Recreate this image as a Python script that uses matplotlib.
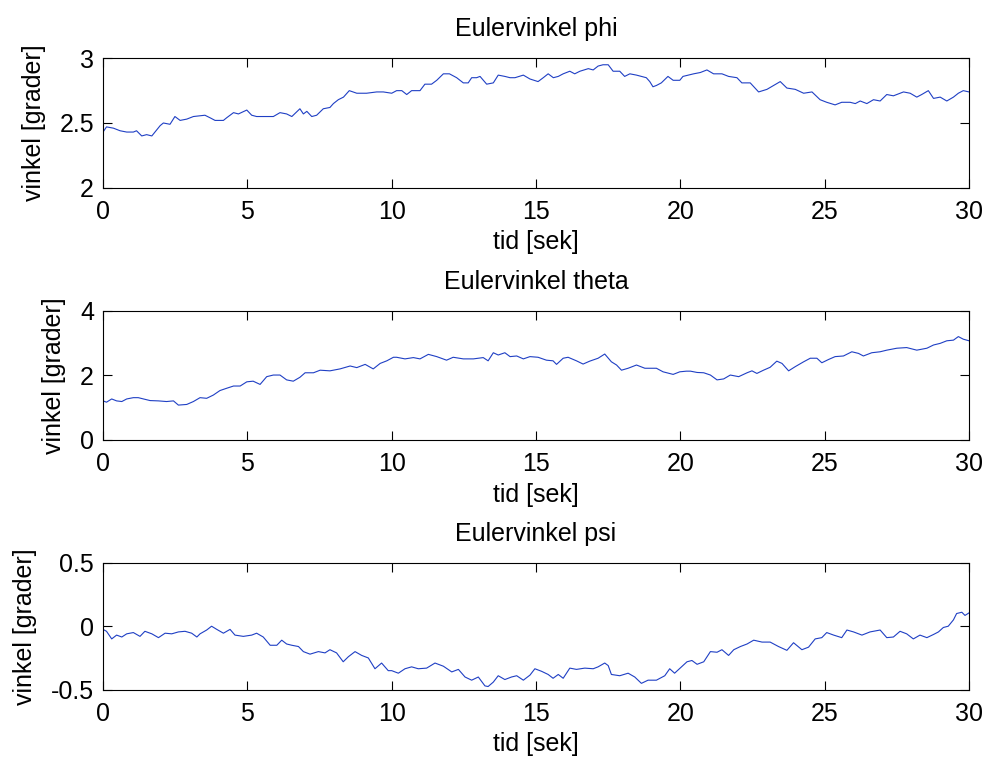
import matplotlib
matplotlib.use("Agg")
import matplotlib.pyplot as plt

plt.rcParams['font.family'] = ['Liberation Sans', 'DejaVu Sans']
plt.rcParams['axes.unicode_minus'] = False

# ---- data ----
t_phi = [0, 0.12, 0.36, 0.59, 0.82, 1.05, 1.16, 1.34, 1.51, 1.69, 1.8, 1.98, 2.09, 2.32, 2.49, 2.67, 2.9, 3.13,
         3.53, 3.71, 3.88, 4.17, 4.28, 4.52, 4.69, 4.98, 5.15, 5.32, 5.67, 5.9, 6.13, 6.36, 6.54, 6.82, 6.94,
         7.06, 7.23, 7.4, 7.63, 7.86, 7.98, 8.15, 8.33, 8.53, 8.79, 9.13, 9.48, 9.71, 10.0, 10.17, 10.35,
         10.52, 10.69, 10.98, 11.15, 11.38, 11.56, 11.79, 12.0, 12.25, 12.48, 12.65, 12.77, 12.94, 13.06,
         13.29, 13.52, 13.69, 13.92, 14.1, 14.27, 14.56, 14.79, 15.07, 15.25, 15.42, 15.6, 15.77, 15.94,
         16.17, 16.34, 16.52, 16.81, 16.98, 17.15, 17.32, 17.5, 17.67, 17.9, 18.07, 18.25, 18.48, 18.82,
         18.94, 19.05, 19.17, 19.34, 19.57, 19.75, 19.98, 20.09, 20.27, 20.46, 20.69, 20.92, 21.15, 21.44,
         21.67, 21.96, 22.13, 22.42, 22.71, 23.0, 23.23, 23.46, 23.69, 23.98, 24.27, 24.56, 24.84, 25.07,
         25.36, 25.59, 25.88, 26.06, 26.23, 26.46, 26.69, 26.92, 27.15, 27.38, 27.73, 27.96, 28.19, 28.36,
         28.59, 28.77, 29.0, 29.23, 29.46, 29.63, 29.8, 30.0]
phi = [2.43, 2.47, 2.46, 2.44, 2.43, 2.43, 2.44, 2.40, 2.41, 2.40, 2.43, 2.48, 2.50, 2.49, 2.55, 2.52, 2.53, 2.55,
       2.56, 2.54, 2.52, 2.52, 2.54, 2.58, 2.57, 2.60, 2.56, 2.55, 2.55, 2.55, 2.58, 2.57, 2.55, 2.61, 2.57,
       2.59, 2.55, 2.56, 2.61, 2.62, 2.65, 2.68, 2.70, 2.75, 2.73, 2.73, 2.74, 2.74, 2.73, 2.75, 2.75,
       2.72, 2.75, 2.75, 2.80, 2.80, 2.83, 2.88, 2.88, 2.85, 2.81, 2.81, 2.85, 2.85, 2.86,
       2.80, 2.81, 2.87, 2.86, 2.85, 2.85, 2.87, 2.84, 2.82, 2.85, 2.88, 2.85, 2.86, 2.88,
       2.90, 2.88, 2.90, 2.92, 2.91, 2.94, 2.95, 2.95, 2.90, 2.90, 2.86, 2.88, 2.87, 2.85,
       2.82, 2.78, 2.79, 2.81, 2.86, 2.83, 2.83, 2.86, 2.87, 2.88, 2.89, 2.91, 2.88, 2.88,
       2.86, 2.85, 2.81, 2.81, 2.74, 2.76, 2.79, 2.82, 2.77, 2.76, 2.73, 2.74, 2.68, 2.66,
       2.64, 2.66, 2.66, 2.65, 2.67, 2.65, 2.68, 2.67, 2.72, 2.71, 2.74, 2.73, 2.70, 2.72,
       2.75, 2.69, 2.70, 2.67, 2.70, 2.73, 2.75, 2.74]

t_theta = [0, 0.12, 0.3, 0.47, 0.65, 0.82, 1.05, 1.22, 1.4, 1.63, 1.92, 2.2, 2.44, 2.61, 2.9, 3.13, 3.36, 3.59,
           3.82, 4.05, 4.28, 4.52, 4.75, 4.98, 5.2, 5.44, 5.67, 5.9, 6.13, 6.36, 6.59, 6.82, 7.0, 7.29, 7.52,
           7.86, 8.21, 8.56, 8.79, 9.08, 9.36, 9.6, 9.83, 10.06, 10.17, 10.46, 10.75, 10.98, 11.27, 11.56,
           11.9, 12.13, 12.48, 12.83, 13.17, 13.34, 13.52, 13.69, 13.92, 14.1, 14.33, 14.56, 14.79, 15.07,
           15.36, 15.59, 15.71, 15.94, 16.11, 16.4, 16.63, 16.86, 17.15, 17.38, 17.61, 17.79, 17.96, 18.19,
           18.48, 18.77, 19.17, 19.4, 19.75, 19.98, 20.21, 20.35, 20.58, 20.81, 21.04, 21.27, 21.5, 21.73,
           22.02, 22.31, 22.48, 22.65, 22.88, 23.11, 23.34, 23.52, 23.75, 23.98, 24.27, 24.5, 24.73, 24.9,
           25.13, 25.36, 25.65, 25.94, 26.17, 26.34, 26.63, 26.92, 27.15, 27.5, 27.84, 28.19, 28.54, 28.77,
           29.0, 29.23, 29.46, 29.63, 29.8, 30.0]
theta = [1.21, 1.17, 1.27, 1.21, 1.19, 1.27, 1.31, 1.31, 1.27, 1.22, 1.21, 1.19, 1.21, 1.08, 1.10, 1.19, 1.31, 1.29,
         1.39, 1.53, 1.60, 1.67, 1.67, 1.80, 1.82, 1.72, 1.96, 2.01, 2.01, 1.86, 1.82, 1.94, 2.08, 2.08, 2.16,
         2.14, 2.20, 2.29, 2.24, 2.34, 2.20, 2.37, 2.45, 2.56, 2.56, 2.51, 2.55, 2.51, 2.65, 2.58,
         2.47, 2.56, 2.51, 2.51, 2.55, 2.45, 2.70, 2.63, 2.70, 2.58, 2.60, 2.51, 2.58, 2.56,
         2.47, 2.45, 2.34, 2.53, 2.56, 2.45, 2.35, 2.44, 2.53, 2.66, 2.42, 2.32, 2.16, 2.22,
         2.32, 2.22, 2.22, 2.11, 2.03, 2.11, 2.13, 2.13, 2.09, 2.08, 2.01, 1.86, 1.89, 2.01,
         1.96, 2.08, 2.14, 2.06, 2.16, 2.25, 2.44, 2.37, 2.14, 2.27, 2.42, 2.53, 2.53, 2.39,
         2.49, 2.58, 2.60, 2.73, 2.68, 2.60, 2.70, 2.73, 2.78, 2.84, 2.86, 2.78, 2.84, 2.94,
         2.99, 3.07, 3.09, 3.20, 3.12, 3.07]

t_psi = [0, 0.12, 0.3, 0.47, 0.65, 0.82, 1.05, 1.28, 1.45, 1.69, 1.92, 2.15, 2.38, 2.61, 2.84, 3.07, 3.25, 3.36,
         3.59, 3.76, 3.94, 4.17, 4.4, 4.57, 4.86, 5.15, 5.32, 5.55, 5.79, 6.02, 6.19, 6.36, 6.54, 6.77, 6.94,
         7.17, 7.46, 7.69, 7.86, 8.09, 8.32, 8.5, 8.73, 8.96, 9.19, 9.42, 9.65, 9.88, 10.0, 10.23, 10.46,
         10.69, 10.92, 11.21, 11.5, 11.79, 12.08, 12.31, 12.54, 12.77, 13.0, 13.23, 13.34, 13.52, 13.69,
         13.92, 14.15, 14.33, 14.56, 14.79, 14.96, 15.19, 15.42, 15.59, 15.77, 15.94, 16.17, 16.4, 16.69,
         16.98, 17.15, 17.38, 17.5, 17.61, 17.9, 18.19, 18.42, 18.65, 18.88, 19.17, 19.46, 19.63, 19.8,
         20.04, 20.23, 20.4, 20.58, 20.81, 21.04, 21.27, 21.44, 21.67, 21.85, 22.08, 22.31, 22.54, 22.83,
         23.11, 23.4, 23.69, 23.92, 24.21, 24.44, 24.67, 24.9, 25.07, 25.31, 25.59, 25.77, 26.0, 26.29,
         26.57, 26.92, 27.15, 27.38, 27.61, 27.84, 28.07, 28.3, 28.54, 28.77, 28.94, 29.11, 29.28, 29.46,
         29.57, 29.75, 29.86, 30.0]
psi = [-0.025, -0.04, -0.10, -0.07, -0.085, -0.06, -0.05, -0.08, -0.04, -0.06, -0.09, -0.055, -0.06, -0.045,
       -0.04, -0.055, -0.085, -0.06, -0.03, 0.0, -0.025, -0.055, -0.025, -0.07, -0.08, -0.07, -0.055, -0.085,
       -0.15, -0.15, -0.11, -0.14, -0.15, -0.16, -0.20, -0.22, -0.20, -0.21, -0.185, -0.21, -0.28, -0.24,
       -0.20, -0.23, -0.25, -0.335, -0.29, -0.35, -0.35, -0.37, -0.335, -0.32, -0.335, -0.33, -0.29, -0.315,
       -0.36, -0.34, -0.40, -0.425, -0.40, -0.47, -0.475, -0.44, -0.39, -0.42, -0.40, -0.39, -0.425, -0.385,
       -0.335, -0.355, -0.38, -0.41, -0.38, -0.41, -0.33, -0.34, -0.33, -0.335, -0.32, -0.29, -0.31, -0.38,
       -0.39, -0.37, -0.40, -0.45, -0.425, -0.425, -0.39, -0.335, -0.37, -0.32, -0.28, -0.27, -0.30, -0.28,
       -0.20, -0.205, -0.185, -0.23, -0.185, -0.16, -0.14, -0.11, -0.125, -0.125, -0.16, -0.19, -0.13,
       -0.185, -0.165, -0.10, -0.09, -0.05, -0.07, -0.09, -0.03, -0.045, -0.07, -0.045, -0.03, -0.09, -0.085,
       -0.04, -0.06, -0.10, -0.07, -0.09, -0.065, -0.045, -0.01, 0.0, 0.05, 0.10, 0.11, 0.085, 0.105]

titles = ["Eulervinkel phi", "Eulervinkel theta", "Eulervinkel psi"]
xlabel = "tid [sek]"
ylabel = "vinkel [grader]"
xticks = [0, 5, 10, 15, 20, 25, 30]
yticks_list = [[2, 2.5, 3], [0, 2, 4], [-0.5, 0, 0.5]]
ylims = [(2, 3), (0, 4), (-0.5, 0.5)]

# ---- drawing ----
fig = plt.figure(figsize=(9.87, 7.59), dpi=100)
rects = [[0.1044, 0.7527, 0.8774, 0.1705],
         [0.1044, 0.4203, 0.8774, 0.1703],
         [0.1044, 0.0913, 0.8774, 0.1673]]
series = [(t_phi, phi), (t_theta, theta), (t_psi, psi)]
fs = 18
for rect, (tx, vy), title, yt, yl in zip(rects, series, titles, yticks_list, ylims):
    ax = fig.add_axes(rect)
    ax.plot(tx, vy, color='#1f3fc4', lw=0.8)
    ax.set_xlim(0, 30)
    ax.set_ylim(*yl)
    ax.set_xticks(xticks)
    ax.set_yticks(yt)
    ax.set_yticklabels([("%g" % v) for v in yt])
    ax.tick_params(direction='in', length=6.5, width=0.8, top=True, right=True, labelsize=fs)
    ax.tick_params(axis='x', pad=8.5)
    ax.tick_params(axis='y', pad=6.5)
    for s in ax.spines.values():
        s.set_linewidth(0.8)
    ax.set_title(title, fontsize=fs, pad=16)
    ax.set_xlabel(xlabel, fontsize=fs, labelpad=5)
    ax.set_ylabel(ylabel, fontsize=fs, labelpad=10)

fig.savefig("out.png", dpi=100)
